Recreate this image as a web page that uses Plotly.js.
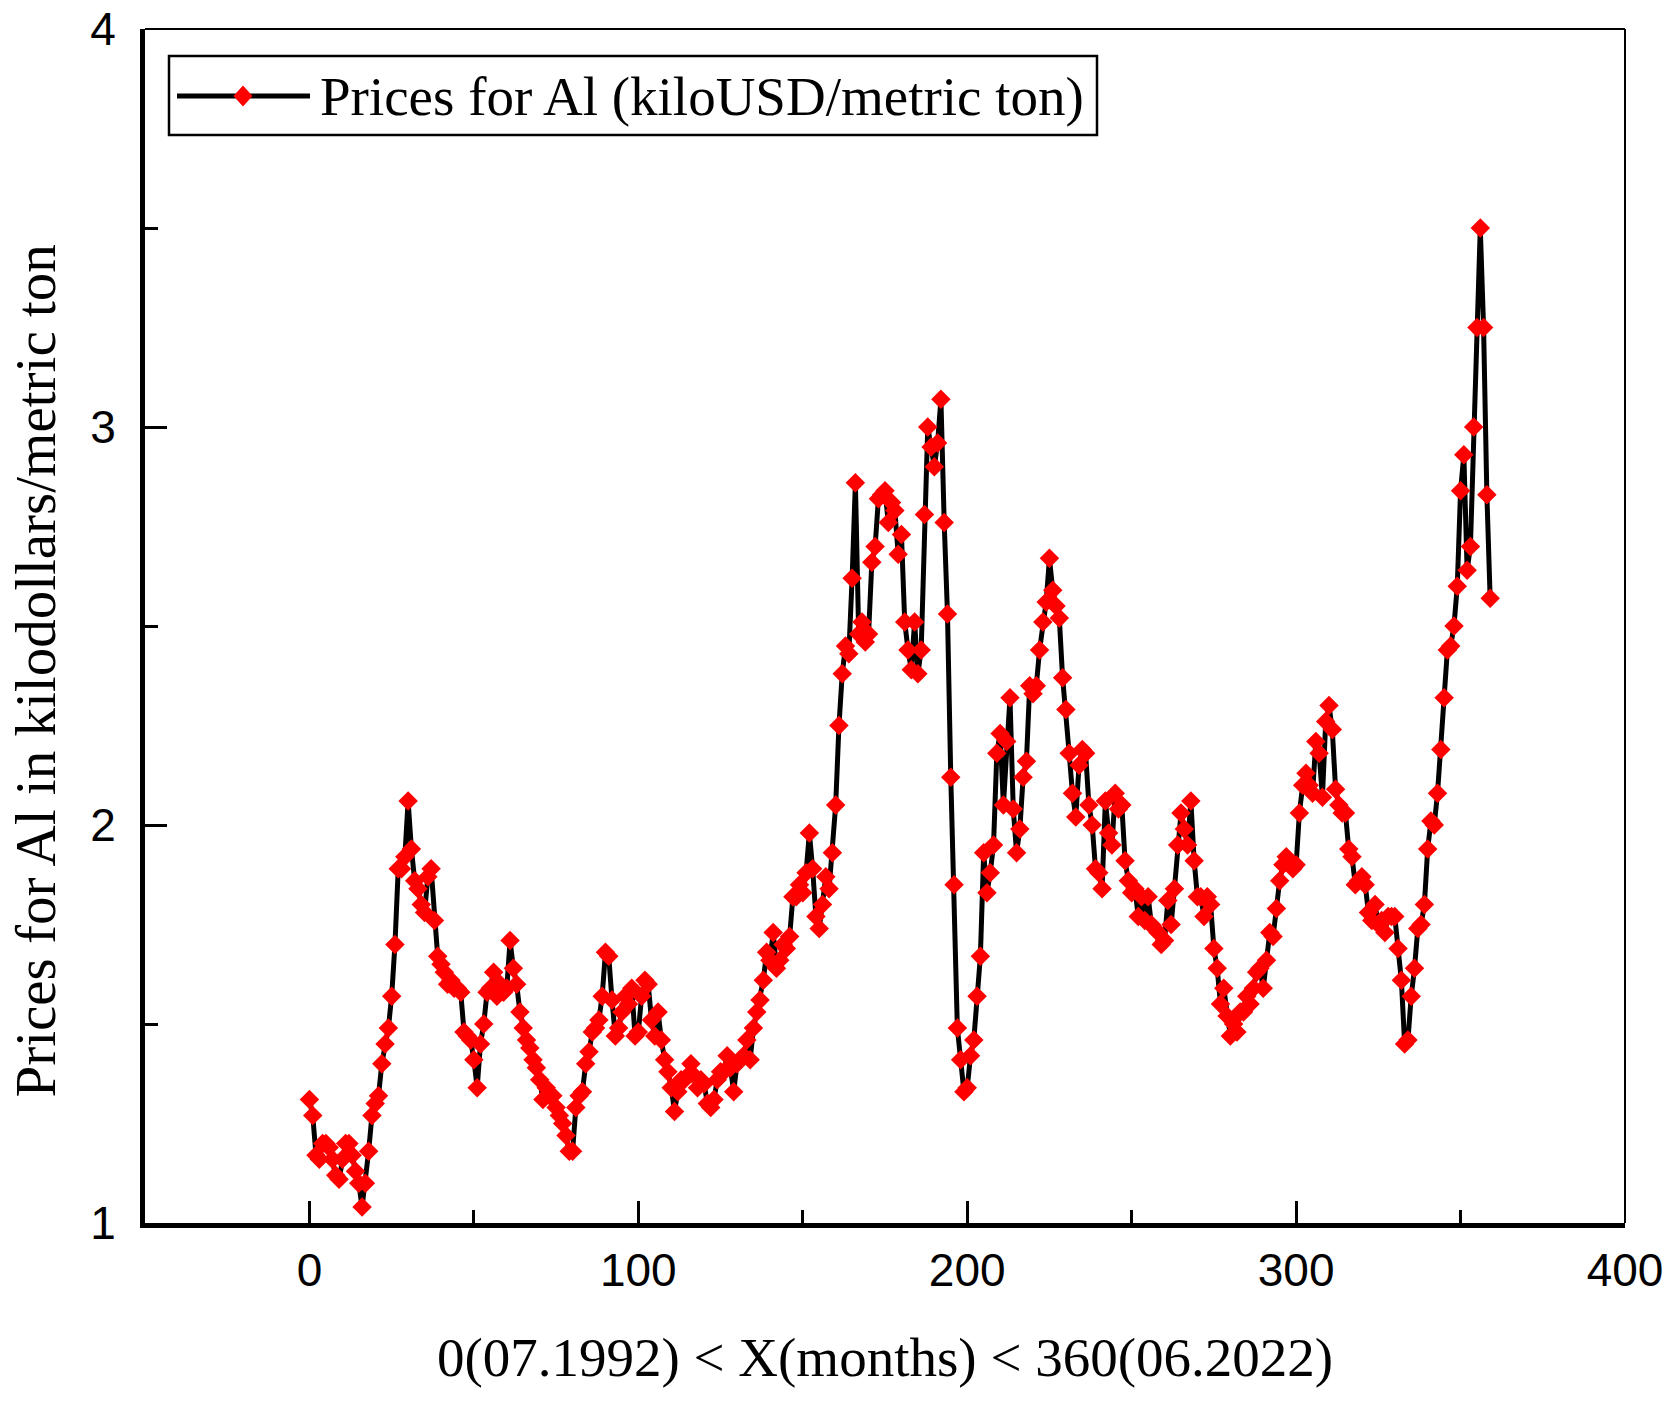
<!DOCTYPE html>
<html>
<head>
<meta charset="utf-8">
<script src="https://cdn.plot.ly/plotly-3.0.1.min.js"></script>
<style>html,body{margin:0;padding:0;background:#fff;}#chart{width:1678px;height:1407px;}</style>
</head>
<body>
<div id="chart"></div>
<script>
// Monthly aluminium prices, kiloUSD per metric ton, month 0 = 07.1992
const p1992 = [1.31, 1.27, 1.17, 1.16, 1.20, 1.20];
const p1993 = [1.19, 1.16, 1.12, 1.11, 1.16, 1.20, 1.20, 1.17, 1.13, 1.10, 1.04, 1.10];
const p1994 = [1.18, 1.27, 1.30, 1.32, 1.40, 1.45, 1.49, 1.57, 1.70, 1.89, 1.89, 1.92];
const p1995 = [2.06, 1.94, 1.86, 1.84, 1.80, 1.78, 1.87, 1.89, 1.76, 1.67, 1.65, 1.63];
const p1996 = [1.60, 1.61, 1.59, 1.59, 1.58, 1.48, 1.47, 1.46, 1.41, 1.34, 1.45, 1.50];
const p1997 = [1.58, 1.59, 1.63, 1.57, 1.60, 1.58, 1.59, 1.71, 1.64, 1.60, 1.53, 1.49];
const p1998 = [1.46, 1.44, 1.41, 1.39, 1.36, 1.31, 1.34, 1.32, 1.32, 1.29, 1.27, 1.25];
const p1999 = [1.22, 1.18, 1.18, 1.29, 1.32, 1.33, 1.40, 1.43, 1.48, 1.49, 1.51, 1.57];
const p2000 = [1.68, 1.67, 1.56, 1.47, 1.49, 1.53, 1.57, 1.55, 1.59, 1.47, 1.48, 1.57];
const p2001 = [1.61, 1.60, 1.51, 1.47, 1.53, 1.46, 1.41, 1.38, 1.34, 1.28, 1.33, 1.36];
const p2002 = [1.36, 1.37, 1.40, 1.37, 1.34, 1.36, 1.35, 1.30, 1.29, 1.31, 1.36, 1.38];
const p2003 = [1.38, 1.42, 1.39, 1.33, 1.40, 1.41, 1.42, 1.46, 1.41, 1.49, 1.53, 1.56];
const p2004 = [1.61, 1.68, 1.66, 1.73, 1.64, 1.66, 1.70, 1.69, 1.72, 1.82, 1.82, 1.85];
const p2005 = [1.83, 1.88, 1.98, 1.89, 1.77, 1.74, 1.80, 1.87, 1.84, 1.93, 2.05, 2.25];
const p2006 = [2.38, 2.45, 2.43, 2.62, 2.86, 2.48, 2.51, 2.46, 2.48, 2.66, 2.70, 2.82];
const p2007 = [2.83, 2.84, 2.76, 2.81, 2.79, 2.68, 2.73, 2.51, 2.44, 2.39, 2.51, 2.38];
const p2008 = [2.44, 2.78, 3.00, 2.95, 2.90, 2.96, 3.07, 2.76, 2.53, 2.12, 1.85, 1.49];
const p2009 = [1.41, 1.33, 1.34, 1.42, 1.46, 1.57, 1.67, 1.93, 1.83, 1.88, 1.95, 2.18];
const p2010 = [2.23, 2.05, 2.21, 2.32, 2.04, 1.93, 1.99, 2.12, 2.16, 2.35, 2.33, 2.35];
const p2011 = [2.44, 2.51, 2.56, 2.67, 2.59, 2.55, 2.52, 2.37, 2.29, 2.18, 2.08, 2.02];
const p2012 = [2.15, 2.19, 2.18, 2.05, 2.00, 1.89, 1.88, 1.84, 2.06, 1.98, 1.95, 2.08];
const p2013 = [2.04, 2.05, 1.91, 1.86, 1.83, 1.84, 1.77, 1.82, 1.76, 1.82, 1.75, 1.74];
const p2014 = [1.73, 1.70, 1.71, 1.81, 1.75, 1.84, 1.95, 2.03, 1.99, 1.95, 2.06, 1.91];
const p2015 = [1.82, 1.82, 1.77, 1.82, 1.80, 1.69, 1.64, 1.55, 1.59, 1.52, 1.47, 1.50];
const p2016 = [1.48, 1.53, 1.53, 1.57, 1.55, 1.59, 1.63, 1.64, 1.59, 1.66, 1.73, 1.72];
const p2017 = [1.79, 1.86, 1.90, 1.92, 1.91, 1.89, 1.90, 2.03, 2.10, 2.13, 2.10, 2.08];
const p2018 = [2.21, 2.18, 2.07, 2.26, 2.30, 2.24, 2.09, 2.05, 2.03, 2.03, 1.94, 1.92];
const p2019 = [1.85, 1.86, 1.87, 1.85, 1.78, 1.76, 1.80, 1.75, 1.76, 1.73, 1.77, 1.77];
const p2020 = [1.77, 1.69, 1.61, 1.45, 1.46, 1.57, 1.64, 1.74, 1.75, 1.80, 1.94, 2.01];
const p2021 = [2.00, 2.08, 2.19, 2.32, 2.44, 2.45, 2.50, 2.60, 2.84, 2.93, 2.64, 2.70];
const p2022 = [3.00, 3.25, 3.50, 3.25, 2.83, 2.57];

const xTickVals = [0, 100, 200, 300, 400];
const xTickText = ['0', '100', '200', '300', '400'];
const yTickVals = [1, 2, 3, 4];
const yTickText = ['1', '2', '3', '4'];
const seriesName = 'Prices for Al (kiloUSD/metric ton)';
const xTitle = '0(07.1992) < X(months) < 360(06.2022)';
const yTitle = 'Prices for Al in kilodollars/metric ton';

const prices = [].concat(p1992, p1993, p1994, p1995, p1996, p1997, p1998, p1999, p2000,
  p2001, p2002, p2003, p2004, p2005, p2006, p2007, p2008, p2009, p2010, p2011, p2012,
  p2013, p2014, p2015, p2016, p2017, p2018, p2019, p2020, p2021, p2022);
const months = prices.map((_, i) => i);

const W = 1678, H = 1407;
const M = {l: 145, r: 53, t: 29, b: 184};
const pw = W - M.l - M.r, ph = H - M.t - M.b;
const px = v => (v - M.l) / pw;      // pixel -> paper x
const py = v => (M.t + ph - v) / ph; // pixel -> paper y

const serif = 'Liberation Serif, Times New Roman, serif';
const sans = 'Liberation Sans, Arial, sans-serif';

// legend key (drawn manually so the line sample is long like the original)
const lgY = py(96);
const dcx = px(243), hw = 9.5 / pw, hh = 10.5 / ph;
const shapes = [
  {type: 'line', xref: 'paper', yref: 'paper', x0: 0, x1: 1, y0: 1, y1: 1, line: {color: '#000', width: 2}},
  {type: 'line', xref: 'paper', yref: 'paper', x0: 1, x1: 1, y0: 0, y1: 1, line: {color: '#000', width: 2}},
  {type: 'rect', xref: 'paper', yref: 'paper', x0: px(169), x1: px(1097), y0: py(135), y1: py(56),
   line: {color: '#000', width: 2.5}, fillcolor: 'rgba(0,0,0,0)'},
  {type: 'line', xref: 'paper', yref: 'paper', x0: px(177), x1: px(310), y0: lgY, y1: lgY, line: {color: '#000', width: 5}},
  {type: 'path', xref: 'paper', yref: 'paper',
   path: `M ${dcx - hw} ${lgY} L ${dcx} ${lgY + hh} L ${dcx + hw} ${lgY} L ${dcx} ${lgY - hh} Z`,
   fillcolor: '#ff0000', line: {width: 0}}
];

const data = [{
  type: 'scatter', mode: 'lines+markers', name: seriesName,
  x: months, y: prices,
  line: {color: '#000000', width: 5},
  marker: {symbol: 'diamond', size: 15, color: '#ff0000', line: {width: 0}},
  showlegend: false
}];

const layout = {
  width: W, height: H,
  margin: {l: M.l, r: M.r, t: M.t, b: M.b, pad: 0},
  paper_bgcolor: '#fff', plot_bgcolor: '#fff',
  showlegend: false,
  xaxis: {
    range: [-50, 400], autorange: false,
    tickmode: 'array', tickvals: xTickVals, ticktext: xTickText,
    ticks: 'inside', ticklen: 22, tickwidth: 3, tickcolor: '#000',
    minor: {ticks: 'inside', ticklen: 13, tickwidth: 3, tickcolor: '#000', dtick: 50, tick0: 0, showgrid: false},
    showline: true, linewidth: 5, linecolor: '#000', mirror: false,
    showgrid: false, zeroline: false,
    tickfont: {family: sans, size: 46, color: '#000'},
    ticklabelstandoff: 3,
    title: {text: xTitle, font: {family: serif, size: 55, color: '#000'}, standoff: 44},
    automargin: false
  },
  yaxis: {
    range: [1, 4], autorange: false,
    tickmode: 'array', tickvals: yTickVals, ticktext: yTickText,
    ticks: 'inside', ticklen: 22, tickwidth: 3, tickcolor: '#000',
    minor: {ticks: 'inside', ticklen: 13, tickwidth: 3, tickcolor: '#000', dtick: 0.5, tick0: 1, showgrid: false},
    showline: true, linewidth: 5, linecolor: '#000', mirror: false,
    showgrid: false, zeroline: false,
    tickfont: {family: sans, size: 46, color: '#000'},
    ticklabelstandoff: 15,
    automargin: false
  },
  shapes: shapes,
  annotations: [
    {xref: 'paper', yref: 'paper', x: px(318), y: lgY, xanchor: 'left', yanchor: 'middle',
     text: seriesName, showarrow: false, font: {family: serif, size: 55, color: '#000'}},
    {xref: 'paper', yref: 'paper', x: px(34.5), y: py(671), xanchor: 'center', yanchor: 'middle',
     textangle: -90, text: yTitle, showarrow: false, font: {family: serif, size: 57, color: '#000'}}
  ]
};

Plotly.newPlot('chart', data, layout, {displayModeBar: false, staticPlot: true});
</script>
</body>
</html>
